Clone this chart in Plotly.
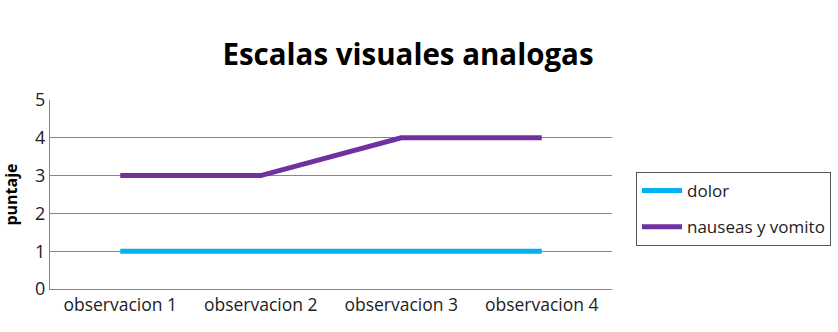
import plotly.graph_objects as go

categories = ["observacion 1", "observacion 2", "observacion 3", "observacion 4"]
dolor = [1, 1, 1, 1]
nauseas = [3, 3, 4, 4]
series_names = ["dolor", "nauseas y vomito"]

fig = go.Figure()
fig.add_trace(go.Scatter(x=categories, y=dolor, name=series_names[0], mode="lines",
                         legendgroup="a",
                         line=dict(color="#00B0F0", width=5)))
fig.add_trace(go.Scatter(x=categories, y=nauseas, name=series_names[1], mode="lines",
                         legendgroup="b",
                         line=dict(color="#7030A0", width=5)))

fig.update_layout(
    width=838, height=332,
    margin=dict(l=50, r=226, t=100, b=43, autoexpand=False),
    paper_bgcolor="white", plot_bgcolor="white",
    font=dict(family="Open Sans", color="#222"),
    title=dict(text="<b>Escalas visuales analogas</b>", x=408/838, xanchor="center",
               y=1 - 55/332, yanchor="middle", font=dict(size=29.5, color="black")),
    xaxis=dict(range=[-0.5, 3.5], showgrid=False, showline=True, linecolor="#868686",
               ticks="", tickfont=dict(size=17.5)),
    yaxis=dict(range=[0, 5], dtick=1, showgrid=True, gridcolor="#868686", gridwidth=1,
               showline=True, linecolor="#868686", zeroline=False, ticks="",
               tickfont=dict(size=18),
               title=dict(text="<b>puntaje</b>", font=dict(size=16, color="black"), standoff=14)),
    legend=dict(xref="container", yref="container", x=636/838, y=1 - 172/332,
                xanchor="left", yanchor="top",
                bordercolor="#555", borderwidth=1, font=dict(size=17),
                itemwidth=40, tracegroupgap=11),
    showlegend=True,
)

fig.write_html("out.html")
